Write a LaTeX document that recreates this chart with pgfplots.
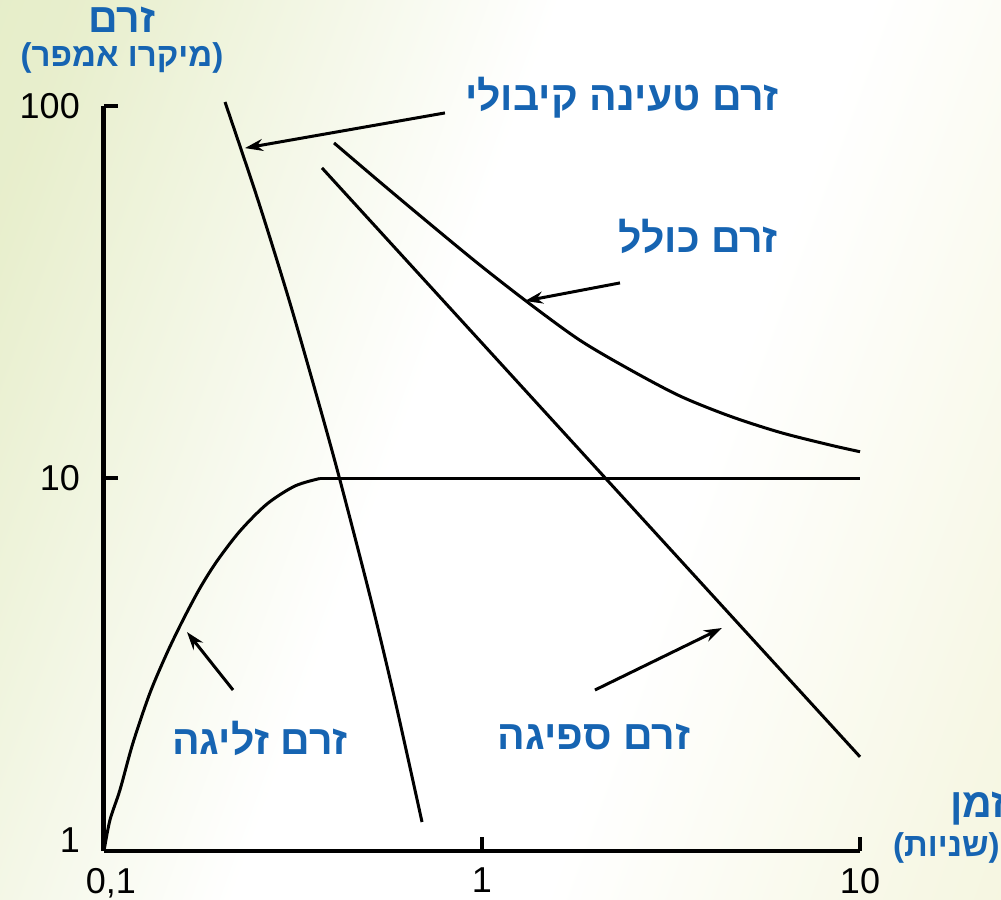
\documentclass[border=0pt]{standalone}
\usepackage{fontspec}
\setmainfont{Liberation Sans}
\newfontfamily\hebfont[Script=Hebrew]{Liberation Sans}
\TeXXeTstate=1
\usepackage{pgfplots}
\pgfplotsset{compat=1.18}
\usetikzlibrary{arrows.meta}

\definecolor{hebblue}{RGB}{22,100,178}
\definecolor{bggreen}{RGB}{224,233,188}
\definecolor{bgyellow}{RGB}{240,241,208}
\pgfdeclareverticalshading{paper}{100bp}{color(0bp)=(bgyellow); color(22bp)=(bgyellow!55!white); color(40bp)=(white); color(55bp)=(white); color(78bp)=(bggreen!75!white); color(100bp)=(bggreen)}

\tikzset{
  heb/.style={text=hebblue, inner sep=0pt, font=\hebfont\bfseries\fontsize{41bp}{43bp}\selectfont},
  hebsmall/.style={text=hebblue, inner sep=0pt, font=\bfseries\fontsize{33bp}{35bp}\selectfont},
  pointer/.style={-{Stealth[length=18bp,width=12bp]}, line width=3bp, black},
  curve/.style={black, line width=3bp, no marks},
}
% parenthesised Hebrew: the brackets stay in the Latin font, the words run right to left
\newcommand{\hebparen}[1]{(\hebfont\beginR #1\endR\normalfont\bfseries)}

\begin{document}
\begin{tikzpicture}
\useasboundingbox (0,0) rectangle (1001bp,900bp);
\clip (0,0) rectangle (1001bp,900bp);
\fill[shading=paper, shading angle=70] (0,0) rectangle (1001bp,900bp);

\begin{axis}[
  at={(104bp,49bp)}, anchor=south west,
  scale only axis, width=756bp, height=745bp,
  xmode=log, ymode=log,
  xmin=0.1, xmax=10, ymin=1, ymax=100,
  axis x line=bottom, axis y line=left,
  x axis line style={-, line width=4bp},
  y axis line style={-, line width=5bp},
  xtick={0.1,1,10}, ytick={10,100},
  xticklabels={{\hspace*{14bp}0,1},1,10},
  yticklabels={10,100},
  extra y ticks={1}, extra y tick labels={1},
  extra y tick style={yticklabel style={yshift=11bp}},
  xminorticks=false, yminorticks=false,
  tick align=inside, major tick length=14bp,
  tick style={line width=4bp, black},
  ticklabel style={font=\fontsize{36bp}{38bp}\selectfont, inner sep=0pt},
  xticklabel style={yshift=-17bp},
  yticklabel style={xshift=-24bp},
  clip=false,
]
% charging (capacitive) current
\addplot[curve, smooth] coordinates {
  (0.209,102.5) (0.2555,55.9) (0.3086,30.2) (0.3683,16.2) (0.4209,9.91)
  (0.5085,4.72) (0.5886,2.54) (0.694,1.196)
};
% leakage current: rise, then constant
\addplot[curve, smooth] coordinates {
  (0.1,1.0) (0.1037,1.211) (0.1102,1.458) (0.1193,1.950) (0.1323,2.656)
  (0.1468,3.401) (0.1618,4.171) (0.1795,5.082) (0.1991,6.004) (0.2290,7.229)
  (0.2699,8.543) (0.3201,9.548) (0.3727,10)
};
\addplot[curve] coordinates {(0.3727,10) (10,10)};
% absorption current
\addplot[curve] coordinates {(0.3773,68.2) (10,1.79)};
% total current
\addplot[curve, smooth] coordinates {
  (0.406,79.6) (0.537,62.5) (0.729,48.2) (0.988,37.4) (1.340,29.4)
  (1.816,23.5) (2.463,19.6) (3.341,16.65) (4.530,14.7) (6.143,13.3)
  (8.330,12.3) (10,11.8)
};

\draw[pointer] (axis cs:0.798,95.8) -- (axis cs:0.236,77.1);
\draw[pointer] (axis cs:2.318,33.5) -- (axis cs:1.299,29.96);
\draw[pointer] (axis cs:0.2195,2.705) -- (axis cs:0.1658,3.871);
\draw[pointer] (axis cs:1.990,2.705) -- (axis cs:4.314,3.969);
\end{axis}

% curve names
\node[heb, anchor=base] at (622bp,789bp) {\beginR זרם טעינה קיבולי\endR};
\node[heb, anchor=base] at (698bp,647bp) {\beginR זרם כולל\endR};
\node[heb, anchor=base] at (260bp,145bp) {\beginR זרם זליגה\endR};
\node[heb, anchor=base] at (594bp,150bp) {\beginR זרם ספיגה\endR};

% axis titles
\node[heb, anchor=base] at (122bp,867bp) {\beginR זרם\endR};
\node[hebsmall, anchor=base] at (122bp,833bp) {\hebparen{מיקרו אמפר}};
\node[heb, anchor=base west] at (950bp,82bp) {\beginR זמן\endR};
\node[hebsmall, anchor=base west] at (893bp,43bp) {\hebparen{שניות}};
\end{tikzpicture}
\end{document}
